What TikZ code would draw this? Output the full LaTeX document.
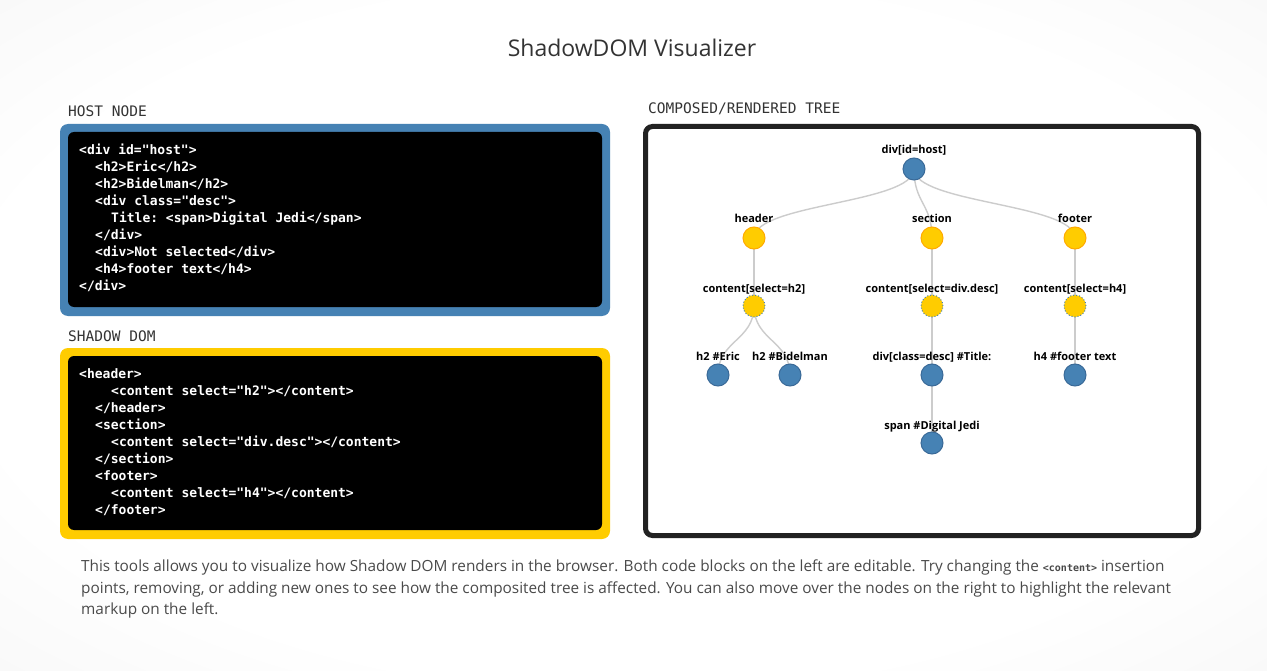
\documentclass[tikz,border=0pt]{standalone}
\usepackage{fontspec}
\setmainfont{Open Sans}
\setmonofont{DejaVu Sans Mono}
\usetikzlibrary{calc}
\definecolor{steel}{HTML}{4682B4}
\definecolor{steeldark}{HTML}{3A6A98}
\definecolor{gold}{HTML}{FFCC00}
\definecolor{goldedge}{HTML}{FFAA00}
\definecolor{edgegray}{HTML}{CCCCCC}
\definecolor{panelblack}{HTML}{222222}
\definecolor{titlegray}{HTML}{333333}
\definecolor{textgray}{HTML}{4A4A4A}
\pgfdeclareradialshading{vign}{\pgfpoint{0bp}{0bp}}{color(0bp)=(white); color(26bp)=(white); color(50bp)=(black!6); color(72bp)=(black!12)}
\pgfdeclarelayer{back}
\pgfdeclarelayer{edges}
\pgfsetlayers{back,edges,main}
\newcommand\tedge[2]{%
  \coordinate (m#1#2) at ($(#1.center)!.5!(#2.center)$);
  \draw[treeedge] (#1.center) .. controls (#1.center |- m#1#2) and (#2.center |- m#1#2) .. (#2.center);}
\tikzset{
  code/.style={anchor=base west, inner sep=0pt, text=white, font=\ttfamily\bfseries\fontsize{13}{15}\selectfont},
  seclbl/.style={anchor=base west, inner sep=0pt, text=titlegray, font=\ttfamily\fontsize{14.5}{16}\selectfont},
  bnode/.style={circle, minimum size=22pt, inner sep=0pt, fill=steel, draw=steeldark, line width=1pt},
  ynode/.style={circle, minimum size=22pt, inner sep=0pt, fill=gold, draw=goldedge, line width=1pt},
  cnode/.style={circle, minimum size=22pt, inner sep=0pt, fill=gold, draw=steel, dotted, line width=1pt},
  lbl/.style={anchor=base, inner sep=0pt, text=black, font=\bfseries\fontsize{11}{13}\selectfont},
  treeedge/.style={draw=edgegray, line width=1.4pt},
  para/.style={anchor=base west, inner sep=0pt, text=textgray, font=\fontsize{15.35}{19}\selectfont}
}
\begin{document}
\begin{tikzpicture}[x=1pt,y=-1pt]
\begin{pgfonlayer}{back}
  \shade[shading=vign] (0,0) rectangle (1267,671);
  % composed tree panel
  \draw[panelblack, line width=5pt, fill=white, rounded corners=7pt] (645.5,126.5) rectangle (1198.5,535.5);
\end{pgfonlayer}
\useasboundingbox (0,0) rectangle (1267,671);

% title
\node[anchor=base, inner sep=0pt, text=titlegray, font=\fontsize{23}{26}\selectfont] (title) at (632,57) {ShadowDOM Visualizer};

% section labels
\node[seclbl] (lhost) at (68,117) {HOST NODE};
\node[seclbl] (lshadow) at (68,341) {SHADOW DOM};
\node[seclbl] (lcomp) at (648,114) {COMPOSED/RENDERED TREE};

% host box
\fill[steel, rounded corners=8pt] (60,124) rectangle (610,316);
\fill[black, rounded corners=6pt] (68,132) rectangle (602,307);
\node[code] (hc1) at (79,154.5) {<div id="host">};
\node[code] (hc2) at (95,171.5) {<h2>Eric</h2>};
\node[code] (hc3) at (95,188.5) {<h2>Bidelman</h2>};
\node[code] (hc4) at (95,205.5) {<div class="desc">};
\node[code] (hc5) at (111,222.5) {Title: <span>Digital Jedi</span>};
\node[code] (hc6) at (95,239.5) {</div>};
\node[code] (hc7) at (95,256.5) {<div>Not selected</div>};
\node[code] (hc8) at (95,273.5) {<h4>footer text</h4>};
\node[code] (hc9) at (79,290.5) {</div>};

% shadow box
\fill[gold, rounded corners=8pt] (60,348) rectangle (610,539);
\fill[black, rounded corners=6pt] (68,356) rectangle (602,530);
\node[code] (sc1) at (79,378.5) {<header>};
\node[code] (sc2) at (111,395.5) {<content select="h2"></content>};
\node[code] (sc3) at (95,412.5) {</header>};
\node[code] (sc4) at (95,429.5) {<section>};
\node[code] (sc5) at (111,446.5) {<content select="div.desc"></content>};
\node[code] (sc6) at (95,463.5) {</section>};
\node[code] (sc7) at (95,480.5) {<footer>};
\node[code] (sc8) at (111,497.5) {<content select="h4"></content>};
\node[code] (sc9) at (95,514.5) {</footer>};

% tree nodes
\node[bnode] (root) at (914,169) {};
\node[ynode] (hdr) at (754,238) {};
\node[ynode] (sec) at (932,238) {};
\node[ynode] (ftr) at (1075,238) {};
\node[cnode] (ch) at (754,306) {};
\node[cnode] (cd) at (932,306) {};
\node[cnode] (cf) at (1075,306) {};
\node[bnode] (eric) at (718,375) {};
\node[bnode] (bidel) at (790,375) {};
\node[bnode] (desc) at (932,375) {};
\node[bnode] (foot) at (1075,375) {};
\node[bnode] (span) at (932,443) {};

% tree labels
\node[lbl] (lroot) at (914,154) {div[id=host]};
\node[lbl] (lhdr) at (754,223) {header};
\node[lbl] (lsec) at (932,223) {section};
\node[lbl] (lftr) at (1075,223) {footer};
\node[lbl] (lch) at (754,292) {content[select=h2]};
\node[lbl] (lcd) at (932,292) {content[select=div.desc]};
\node[lbl] (lcf) at (1075,292) {content[select=h4]};
\node[lbl] (leric) at (718,360) {h2 \#Eric};
\node[lbl] (lbidel) at (790,360) {h2 \#Bidelman};
\node[lbl] (ldesc) at (932,360) {div[class=desc] \#Title:};
\node[lbl] (lfoot) at (1075,360) {h4 \#footer text};
\node[lbl] (lspan) at (932,429) {span \#Digital Jedi};

% tree edges
\begin{pgfonlayer}{edges}
  \tedge{root}{hdr}
  \tedge{root}{sec}
  \tedge{root}{ftr}
  \tedge{hdr}{ch}
  \tedge{sec}{cd}
  \tedge{ftr}{cf}
  \tedge{ch}{eric}
  \tedge{ch}{bidel}
  \tedge{cd}{desc}
  \tedge{cf}{foot}
  \tedge{desc}{span}
\end{pgfonlayer}

% description
\node[para] (p1) at (81,571) {This tools allows you to visualize how Shadow DOM renders in the browser. Both code blocks on the left are editable. Try changing the {\ttfamily\bfseries\fontsize{10}{12}\selectfont <content>} insertion};
\node[para] (p2) at (81,593) {points, removing, or adding new ones to see how the composited tree is affected. You can also move over the nodes on the right to highlight the relevant};
\node[para] (p3) at (81,614) {markup on the left.};
\end{tikzpicture}
\end{document}
